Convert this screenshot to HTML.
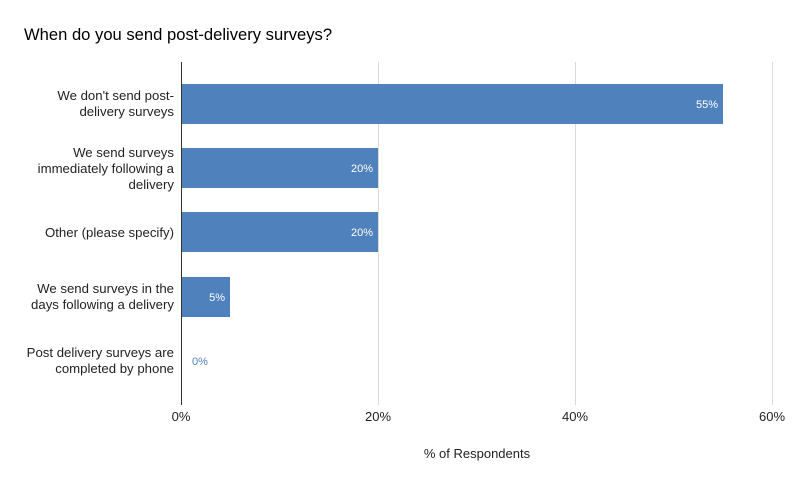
<!DOCTYPE html>
<html><head><meta charset="utf-8"><style>
body{margin:0;background:#fff;}
svg{display:block;font-family:"Liberation Sans",Arial,sans-serif;}
</style></head><body>
<svg width="797" height="487" viewBox="0 0 797 487">
<rect width="797" height="487" fill="#fff"/>
<text x="24" y="40" font-size="16.6" fill="#000">When do you send post-delivery surveys?</text>
<g stroke="#d9d9d9" stroke-width="1">
<line x1="378.5" y1="62" x2="378.5" y2="405"/>
<line x1="575.5" y1="62" x2="575.5" y2="405"/>
<line x1="772.5" y1="62" x2="772.5" y2="405"/>
</g>
<g fill="#4f81bd">
<rect x="181" y="84" width="542" height="40"/>
<rect x="181" y="148" width="197" height="40"/>
<rect x="181" y="212" width="197" height="40"/>
<rect x="181" y="277" width="49" height="40"/>
</g>
<line x1="181.5" y1="62" x2="181.5" y2="405" stroke="#333" stroke-width="1"/>
<g font-size="11" fill="#fff" text-anchor="end">
<text x="718" y="108">55%</text>
<text x="373" y="172">20%</text>
<text x="373" y="236">20%</text>
<text x="225" y="301">5%</text>
</g>
<text x="192" y="365" font-size="11" fill="#4f81bd">0%</text>
<g font-size="13.2" fill="#222" text-anchor="end">
<text x="174" y="100">We don't send post-</text>
<text x="174" y="116">delivery surveys</text>
<text x="174" y="157">We send surveys</text>
<text x="174" y="173">immediately following a</text>
<text x="174" y="189">delivery</text>
<text x="174" y="237">Other (please specify)</text>
<text x="174" y="293">We send surveys in the</text>
<text x="174" y="309">days following a delivery</text>
<text x="174" y="357">Post delivery surveys are</text>
<text x="174" y="373">completed by phone</text>
</g>
<g font-size="13" fill="#222" text-anchor="middle">
<text x="181" y="421">0%</text>
<text x="378" y="421">20%</text>
<text x="575" y="421">40%</text>
<text x="772" y="421">60%</text>
<text x="477" y="458">% of Respondents</text>
</g>
</svg>
</body></html>
